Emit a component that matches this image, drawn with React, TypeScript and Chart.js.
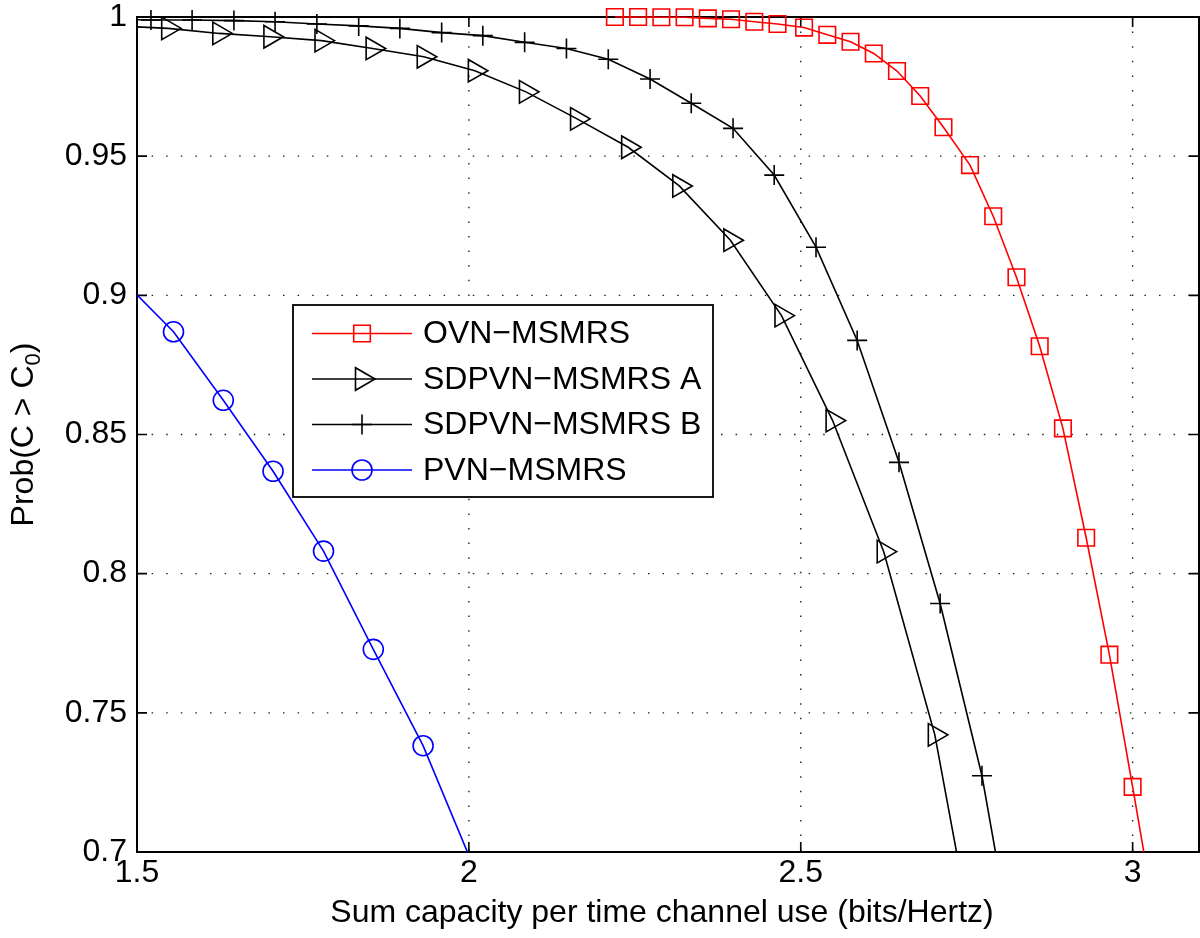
import React, { useEffect, useRef } from "react";
import { Chart, registerables } from "chart.js";

Chart.register(...registerables);

const FONT = "'Liberation Sans', Arial, Helvetica, sans-serif";

// ---- axes ----
const xRange = [1.5, 3.1];
const yRange = [0.7, 1];
const xTicks = [1.5, 2, 2.5, 3];
const xTickLabels = ["1.5", "2", "2.5", "3"];
const yTicks = [0.7, 0.75, 0.8, 0.85, 0.9, 0.95, 1];
const yTickLabels = ["0.7", "0.75", "0.8", "0.85", "0.9", "0.95", "1"];
const xTitle = "Sum capacity per time channel use (bits/Hertz)";
const yTitleMain = "Prob(C > C";
const yTitleSub = "0";
const yTitleEnd = ")";

// ---- series ----
const seriesNames = ["OVN−MSMRS", "SDPVN−MSMRS A", "SDPVN−MSMRS B", "PVN−MSMRS"];
const seriesColors = ["#ff0000", "#000000", "#000000", "#0000ff"];

const ovnX = [2.22, 2.255, 2.29, 2.325, 2.36, 2.395, 2.43, 2.465, 2.505, 2.54, 2.575, 2.61, 2.645, 2.68, 2.715, 2.755, 2.79, 2.825, 2.86, 2.895, 2.93, 2.965, 3.0, 3.04];
const ovnY = [1.0, 1.0, 0.9999, 0.9999, 0.9995, 0.9992, 0.9983, 0.9975, 0.9962, 0.9936, 0.9911, 0.9869, 0.9806, 0.9716, 0.9604, 0.9468, 0.9284, 0.9065, 0.8817, 0.8522, 0.8129, 0.7709, 0.7234, 0.668];

const sdpvnAX = [1.47, 1.547, 1.624, 1.701, 1.778, 1.855, 1.932, 2.009, 2.086, 2.163, 2.24, 2.317, 2.394, 2.471, 2.548, 2.625, 2.702, 2.779];
const sdpvnAY = [0.9968, 0.9959, 0.9941, 0.9929, 0.9915, 0.9887, 0.9857, 0.9807, 0.9731, 0.9634, 0.9532, 0.9393, 0.9198, 0.8927, 0.855, 0.8079, 0.7421, 0.643];

const sdpvnBX = [1.458, 1.521, 1.583, 1.646, 1.708, 1.771, 1.834, 1.896, 1.959, 2.021, 2.084, 2.147, 2.21, 2.273, 2.335, 2.398, 2.46, 2.523, 2.585, 2.648, 2.71, 2.773, 2.835];
const sdpvnBY = [0.9992, 0.9989, 0.9989, 0.9987, 0.9983, 0.9975, 0.9968, 0.9959, 0.9944, 0.9933, 0.9909, 0.9887, 0.9848, 0.9777, 0.969, 0.96, 0.9432, 0.9173, 0.8838, 0.84, 0.7893, 0.7274, 0.644];

const pvnX = [1.48, 1.555, 1.63, 1.705, 1.781, 1.856, 1.931, 2.0065];
const pvnY = [0.905, 0.8869, 0.8623, 0.8368, 0.8081, 0.7728, 0.7382, 0.695];

const toPoints = (xs: number[], ys: number[]) => xs.map((x, i) => ({ x, y: ys[i] }));

function drawMarker(ctx: CanvasRenderingContext2D, kind: number, x: number, y: number) {
  ctx.beginPath();
  if (kind === 0) {
    const s = 8.3;
    ctx.rect(x - s, y - s, 2 * s, 2 * s);
  } else if (kind === 1) {
    const r = 13;
    ctx.moveTo(x + r, y);
    ctx.lineTo(x - r / 2, y - r * 0.866);
    ctx.lineTo(x - r / 2, y + r * 0.866);
    ctx.closePath();
  } else if (kind === 2) {
    ctx.moveTo(x - 10, y);
    ctx.lineTo(x + 10, y);
    ctx.moveTo(x, y - 10);
    ctx.lineTo(x, y + 10);
  } else {
    ctx.arc(x, y, 10, 0, Math.PI * 2);
  }
  ctx.stroke();
}

const matlabAxes = {
  id: "matlabAxes",
  beforeDatasetsDraw(chart: any) {
    const { ctx, chartArea: a, scales } = chart;
    const xs = scales.x;
    const ys = scales.y;
    ctx.save();
    // dotted grid
    ctx.strokeStyle = "#222";
    ctx.lineWidth = 1.4;
    ctx.setLineDash([1.5, 13.1]);
    xTicks.forEach((v) => {
      const px = xs.getPixelForValue(v);
      if (px > a.left + 2 && px < a.right - 2) {
        ctx.beginPath();
        ctx.moveTo(px, a.top);
        ctx.lineTo(px, a.bottom);
        ctx.stroke();
      }
    });
    yTicks.forEach((v) => {
      const py = ys.getPixelForValue(v);
      if (py > a.top + 2 && py < a.bottom - 2) {
        ctx.beginPath();
        ctx.moveTo(a.left, py);
        ctx.lineTo(a.right, py);
        ctx.stroke();
      }
    });
    ctx.setLineDash([]);
    // box
    ctx.strokeStyle = "#000";
    ctx.lineWidth = 2;
    ctx.strokeRect(a.left, a.top, a.right - a.left, a.bottom - a.top);
    // inward ticks
    ctx.lineWidth = 1.6;
    xTicks.forEach((v) => {
      const px = xs.getPixelForValue(v);
      ctx.beginPath();
      ctx.moveTo(px, a.bottom);
      ctx.lineTo(px, a.bottom - 10);
      ctx.moveTo(px, a.top);
      ctx.lineTo(px, a.top + 10);
      ctx.stroke();
    });
    yTicks.forEach((v) => {
      const py = ys.getPixelForValue(v);
      ctx.beginPath();
      ctx.moveTo(a.left, py);
      ctx.lineTo(a.left + 10, py);
      ctx.moveTo(a.right, py);
      ctx.lineTo(a.right - 10, py);
      ctx.stroke();
    });
    ctx.restore();
  },
  afterDatasetsDraw(chart: any) {
    const { ctx, chartArea: a } = chart;
    ctx.save();
    // legend
    const bx = 293, by = 305, bw = 420, bh = 192;
    ctx.fillStyle = "#fff";
    ctx.fillRect(bx, by, bw, bh);
    ctx.strokeStyle = "#000";
    ctx.lineWidth = 1.8;
    ctx.strokeRect(bx, by, bw, bh);
    const rowY = [333.5, 379, 424.5, 470];
    ctx.font = `32px ${FONT}`;
    ctx.textBaseline = "middle";
    ctx.textAlign = "left";
    seriesNames.forEach((name, i) => {
      const y = rowY[i];
      ctx.strokeStyle = seriesColors[i];
      ctx.lineWidth = 1.6;
      ctx.beginPath();
      ctx.moveTo(312, y);
      ctx.lineTo(412, y);
      ctx.stroke();
      ctx.fillStyle = "#fff";
      drawMarker(ctx, i, 362, y);
      ctx.fillStyle = "#000";
      ctx.fillText(name, 423, y + 1);
    });
    // x title
    ctx.font = `32px ${FONT}`;
    ctx.textAlign = "center";
    ctx.textBaseline = "middle";
    ctx.fillStyle = "#000";
    ctx.fillText(xTitle, (a.left + a.right) / 2 - 6, 913);
    // y title with subscript
    const cy = (a.top + a.bottom) / 2;
    ctx.translate(33, cy);
    ctx.rotate(-Math.PI / 2);
    ctx.textAlign = "left";
    ctx.textBaseline = "alphabetic";
    const mainFont = `32px ${FONT}`;
    const subFont = `22px ${FONT}`;
    ctx.font = mainFont;
    const w1 = ctx.measureText(yTitleMain).width;
    const w3 = ctx.measureText(yTitleEnd).width;
    ctx.font = subFont;
    const w2 = ctx.measureText(yTitleSub).width;
    let x0 = -(w1 + w2 + w3) / 2;
    ctx.font = mainFont;
    ctx.fillText(yTitleMain, x0, 0);
    ctx.font = subFont;
    ctx.fillText(yTitleSub, x0 + w1, 7);
    ctx.font = mainFont;
    ctx.fillText(yTitleEnd, x0 + w1 + w2, 0);
    ctx.restore();
  },
};

const zeroPad = (s: any) => {
  s.paddingLeft = 0;
  s.paddingRight = 0;
  s.paddingTop = 0;
  s.paddingBottom = 0;
};

export default function App() {
  const ref = useRef<HTMLCanvasElement | null>(null);
  useEffect(() => {
    if (!ref.current) return;
    const clip = { left: 0, top: 14, right: 0, bottom: 0 };
    const common = {
      borderWidth: 1.6,
      pointBackgroundColor: "rgba(0,0,0,0)",
      pointBorderWidth: 1.6,
      tension: 0,
      fill: false,
      clip,
    };
    const chart = new Chart(ref.current, {
      type: "line",
      data: {
        datasets: [
          { ...common, label: seriesNames[0], data: toPoints(ovnX, ovnY), borderColor: seriesColors[0], pointBorderColor: seriesColors[0], pointStyle: "rect", pointRadius: 11.7 },
          { ...common, label: seriesNames[1], data: toPoints(sdpvnAX, sdpvnAY), borderColor: seriesColors[1], pointBorderColor: seriesColors[1], pointStyle: "triangle", pointRotation: 90, pointRadius: 13 },
          { ...common, label: seriesNames[2], data: toPoints(sdpvnBX, sdpvnBY), borderColor: seriesColors[2], pointBorderColor: seriesColors[2], pointStyle: "cross", pointRadius: 10 },
          { ...common, label: seriesNames[3], data: toPoints(pvnX, pvnY), borderColor: seriesColors[3], pointBorderColor: seriesColors[3], pointStyle: "circle", pointRadius: 10 },
        ] as any,
      },
      options: {
        animation: false,
        responsive: false,
        maintainAspectRatio: false,
        events: [],
        layout: { autoPadding: false, padding: { left: 0, top: 17, right: 1, bottom: 0 } },
        plugins: { legend: { display: false }, tooltip: { enabled: false } },
        scales: {
          x: {
            type: "linear",
            min: xRange[0],
            max: xRange[1],
            afterBuildTicks: (s: any) => {
              s.ticks = xTicks.map((v) => ({ value: v }));
            },
            afterFit: (s: any) => {
              s.height = 86;
              zeroPad(s);
            },
            grid: { display: false, drawTicks: false },
            border: { display: false },
            ticks: {
              color: "#000",
              font: { family: FONT, size: 32 },
              padding: 2,
              maxRotation: 0,
              autoSkip: false,
              callback: (v: any) => {
                const i = xTicks.findIndex((t) => Math.abs(t - Number(v)) < 1e-9);
                return i >= 0 ? xTickLabels[i] : "";
              },
            },
            title: { display: false },
          },
          y: {
            type: "linear",
            min: yRange[0],
            max: yRange[1],
            afterBuildTicks: (s: any) => {
              s.ticks = yTicks.map((v) => ({ value: v }));
            },
            afterFit: (s: any) => {
              s.width = 137;
              zeroPad(s);
            },
            grid: { display: false, drawTicks: false },
            border: { display: false },
            ticks: {
              color: "#000",
              font: { family: FONT, size: 32 },
              padding: 10,
              autoSkip: false,
              callback: (v: any) => {
                const i = yTicks.findIndex((t) => Math.abs(t - Number(v)) < 1e-9);
                return i >= 0 ? yTickLabels[i] : "";
              },
            },
          },
        },
      } as any,
      plugins: [matlabAxes],
    });
    return () => chart.destroy();
  }, []);
  return (
    <div style={{ position: "fixed", left: 0, top: 0, width: 1200, height: 938, background: "#fff" }}>
      <canvas ref={ref} width={1200} height={938} style={{ width: 1200, height: 938, display: "block" }} />
    </div>
  );
}
